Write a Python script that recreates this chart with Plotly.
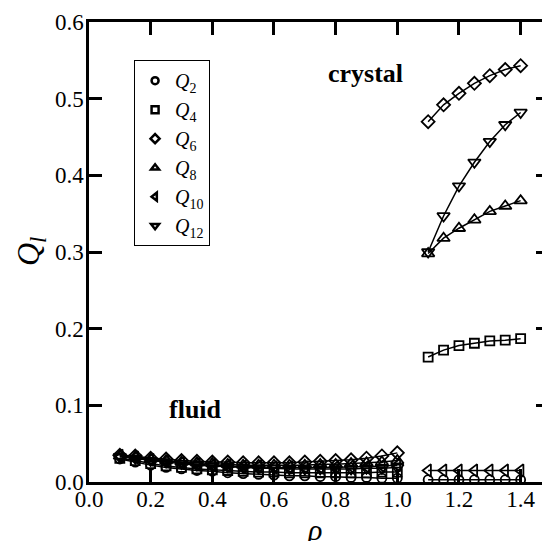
import plotly.graph_objects as go

rho_fluid = [0.10, 0.15, 0.20, 0.25, 0.30, 0.35, 0.40, 0.45, 0.50, 0.55,
             0.60, 0.65, 0.70, 0.75, 0.80, 0.85, 0.90, 0.95, 1.00]
rho_crystal = [1.10, 1.15, 1.20, 1.25, 1.30, 1.35, 1.40]

q2_fluid = [0.030, 0.026, 0.022, 0.019, 0.017, 0.015, 0.014, 0.012, 0.011, 0.010,
            0.009, 0.008, 0.008, 0.007, 0.007, 0.006, 0.006, 0.005, 0.005]
q4_fluid = [0.031, 0.028, 0.024, 0.021, 0.019, 0.017, 0.016, 0.015, 0.014, 0.013,
            0.013, 0.012, 0.012, 0.012, 0.012, 0.012, 0.012, 0.013, 0.013]
q6_fluid = [0.035, 0.034, 0.031, 0.030, 0.028, 0.027, 0.026, 0.026, 0.025, 0.025,
            0.025, 0.025, 0.026, 0.027, 0.028, 0.029, 0.031, 0.034, 0.038]
q8_fluid = [0.034, 0.033, 0.030, 0.028, 0.026, 0.025, 0.024, 0.023, 0.022, 0.022,
            0.022, 0.022, 0.022, 0.023, 0.023, 0.024, 0.025, 0.026, 0.028]
q10_fluid = [0.034, 0.032, 0.029, 0.027, 0.025, 0.023, 0.022, 0.021, 0.020, 0.020,
             0.019, 0.019, 0.019, 0.019, 0.019, 0.020, 0.020, 0.021, 0.022]
q12_fluid = [0.033, 0.031, 0.028, 0.026, 0.024, 0.022, 0.021, 0.020, 0.019, 0.018,
             0.018, 0.017, 0.017, 0.017, 0.017, 0.017, 0.018, 0.018, 0.019]

q2_crystal = [0.003, 0.003, 0.003, 0.003, 0.003, 0.003, 0.003]
q4_crystal = [0.163, 0.172, 0.178, 0.181, 0.184, 0.185, 0.187]
q6_crystal = [0.470, 0.492, 0.507, 0.520, 0.530, 0.538, 0.543]
q8_crystal = [0.298, 0.318, 0.331, 0.342, 0.353, 0.360, 0.367]
q10_crystal = [0.015, 0.015, 0.015, 0.015, 0.015, 0.015, 0.015]
q12_crystal = [0.300, 0.347, 0.386, 0.417, 0.444, 0.466, 0.482]

series = [
    ("2", q2_fluid, q2_crystal, "circle-open", 9),
    ("4", q4_fluid, q4_crystal, "square-open", 9),
    ("6", q6_fluid, q6_crystal, "diamond-open", 10),
    ("8", q8_fluid, q8_crystal, "triangle-up-open", 11),
    ("10", q10_fluid, q10_crystal, "triangle-left-open", 11),
    ("12", q12_fluid, q12_crystal, "triangle-down-open", 11),
]

FONT = "Liberation Serif, Times New Roman, serif"
fig = go.Figure()
for name, yf, yc, sym, sz in series:
    fig.add_trace(go.Scatter(
        x=rho_fluid + [None] + rho_crystal,
        y=yf + [None] + yc,
        mode="lines+markers",
        showlegend=False,
        connectgaps=False,
        line=dict(color="black", width=1.5),
        marker=dict(symbol=sym, size=sz, color="black",
                    line=dict(color="black", width=1.8)),
    ))
# legend-only entries (marker only, no line)
for name, yf, yc, sym, sz in series:
    fig.add_trace(go.Scatter(
        x=[None], y=[None], mode="markers",
        name=f"<i>Q</i><sub>{name}</sub>",
        marker=dict(symbol=sym, size=7, color="black",
                    line=dict(color="black", width=2.5)),
    ))

axis_common = dict(
    showline=True, linecolor="black", linewidth=2.5, mirror="ticks",
    ticks="inside", ticklen=13, tickwidth=2.5, tickcolor="black",
    showgrid=False, zeroline=False, automargin=False,
    tickfont=dict(family=FONT, size=23, color="black"),
)

fig.update_layout(
    width=542, height=533,
    margin=dict(l=81, r=1, t=14, b=59),
    plot_bgcolor="white", paper_bgcolor="white",
    font=dict(family=FONT, color="black"),
    xaxis=dict(range=[0, 1.492], tickvals=[0, 0.2, 0.4, 0.6, 0.8, 1.0, 1.2, 1.4],
               ticktext=["0.0", "0.2", "0.4", "0.6", "0.8", "1.0", "1.2", "1.4"],
               ticklabelstandoff=-5, **axis_common),
    yaxis=dict(range=[0, 0.6], tickvals=[0, 0.1, 0.2, 0.3, 0.4, 0.5, 0.6],
               ticktext=["0.0", "0.1", "0.2", "0.3", "0.4", "0.5", "0.6"],
               ticklabelstandoff=-2, **axis_common),
    showlegend=True,
    legend=dict(x=0.098, y=0.917, xanchor="left", yanchor="top",
                bordercolor="black", borderwidth=1, bgcolor="white",
                font=dict(family=FONT, size=20, color="black"),
                itemwidth=30, tracegroupgap=0),
    annotations=[
        dict(text="<b>crystal</b>", x=0.898, y=0.533, xref="x", yref="y",
             xanchor="center", yanchor="middle",
             showarrow=False, font=dict(family=FONT, size=26, color="black")),
        dict(text="<b>fluid</b>", x=0.347, y=0.094, xref="x", yref="y",
             xanchor="center", yanchor="middle",
             showarrow=False, font=dict(family=FONT, size=26, color="black")),
        dict(text="<i>Q<sub>l</sub></i>", x=-0.128, y=0.5, xref="paper", yref="paper",
             xanchor="center", yanchor="middle",
             textangle=-90, showarrow=False,
             font=dict(family=FONT, size=32, color="black")),
        dict(text="<i>ρ</i>", x=0.49, y=-0.104, xref="paper", yref="paper",
             xanchor="center", yanchor="middle", showarrow=False,
             font=dict(family=FONT, size=30, color="black")),
    ],
)

fig.write_html("out.html")
